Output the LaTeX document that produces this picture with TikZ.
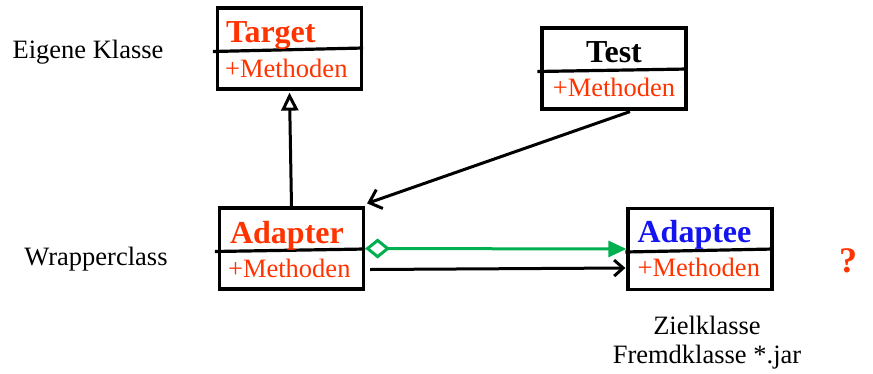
\documentclass[tikz,border=0pt]{standalone}
\usepackage{fontspec}
\setmainfont{Liberation Serif}
\usetikzlibrary{arrows.meta,calc}
\definecolor{hot}{RGB}{255,51,0}
\definecolor{deepblue}{RGB}{20,20,240}
\definecolor{aggr}{RGB}{0,176,80}
\tikzset{
  classbox/.style={draw, line width=3.2pt, minimum width=144pt, minimum height=81pt, inner sep=0pt},
  divider/.style={line width=3.2pt},
  titletext/.style={font=\fontsize{32}{36}\selectfont\bfseries, inner sep=0pt},
  methtext/.style={font=\fontsize{26.5}{30}\selectfont, text=hot, inner sep=0pt},
  plaintext/.style={font=\fontsize{26.5}{30}\selectfont, inner sep=0pt},
  link/.style={line width=3pt},
}
\begin{document}
\begin{tikzpicture}[x=1pt,y=-1pt]
\useasboundingbox (0,0) rectangle (873,373);

% class boxes
\node[classbox] (target)  at (289.5,48.5) {};
\node[classbox] (test)    at (614,68.5) {};
\node[classbox] (adapter) at (291.5,248.5) {};
\node[classbox] (adaptee) at (700,249) {};

% compartment dividers
\draw[divider] ($(target.west)+(-3,3)$)  -- ($(target.east)+(0,-0.5)$);
\draw[divider] ($(test.west)+(-3,3)$)    -- ($(test.east)+(0,0.5)$);
\draw[divider] ($(adapter.west)+(-3,3)$) -- ($(adapter.east)+(0,0.5)$);
\draw[divider] ($(adaptee.west)+(-1,3)$) -- ($(adaptee.east)+(0,0)$);

% class names and operations
\node[titletext, text=hot, anchor=base west] (tname) at ($(target.north west)+(10,36)$) {Target};
\node[methtext, anchor=base west] (tmeth) at ($(target.north west)+(9,71)$) {+Methoden};

\node[titletext, anchor=base] (sname) at ($(test.north)+(0,36)$) {Test};
\node[methtext, anchor=base] (smeth) at ($(test.north)+(0,70)$) {+Methoden};

\node[titletext, text=hot, anchor=base west] (aname) at ($(adapter.north west)+(12,37)$) {Adapter};
\node[methtext, anchor=base west] (ameth) at ($(adapter.north west)+(10,71)$) {+Methoden};

\node[titletext, text=deepblue, anchor=base west] (ename) at ($(adaptee.north west)+(11,36)$) {Adaptee};
\node[methtext, anchor=base west] (emeth) at ($(adaptee.north west)+(11,70)$) {+Methoden};

% side labels
\node[plaintext, anchor=base] (own)  at (88,58) {Eigene Klasse};
\node[plaintext, anchor=base] (wrap) at (96,265) {Wrapperclass};
\node[font=\fontsize{36}{40}\selectfont\bfseries, text=hot, inner sep=0pt, anchor=base] (qm) at (848,272) {?};
\node[plaintext, anchor=base] (goal) at (707,334) {Zielklasse};
\node[plaintext, anchor=base] (ext)  at (707,363) {Fremdklasse *.jar};

% inheritance
\draw[link, -{Triangle[open, width=17pt, length=18pt]}] (adapter.north) -- ($(target.south)+(0,2)$);

% association from Test to Adapter
\draw[link, -{Straight Barb[length=11pt, width=20pt]}]
  ($(test.south)+(16,1)$) -- ($(adapter.north east)+(2,-3)$);

% aggregation Adapter -> Adaptee
\draw[link, aggr, {Diamond[open, length=25pt, width=20pt]}-{Triangle[length=18pt, width=16pt]}]
  (adapter.east) -- (adaptee.west);

% call Adapter -> Adaptee
\coordinate (callstart) at ($(adapter.east)+(5,21)$);
\coordinate (callend)   at ($(adaptee.west)+(-1,19)$);
\draw[link, -{Straight Barb[length=9pt, width=16pt]}] (callstart) -- (callend);
\end{tikzpicture}
\end{document}
